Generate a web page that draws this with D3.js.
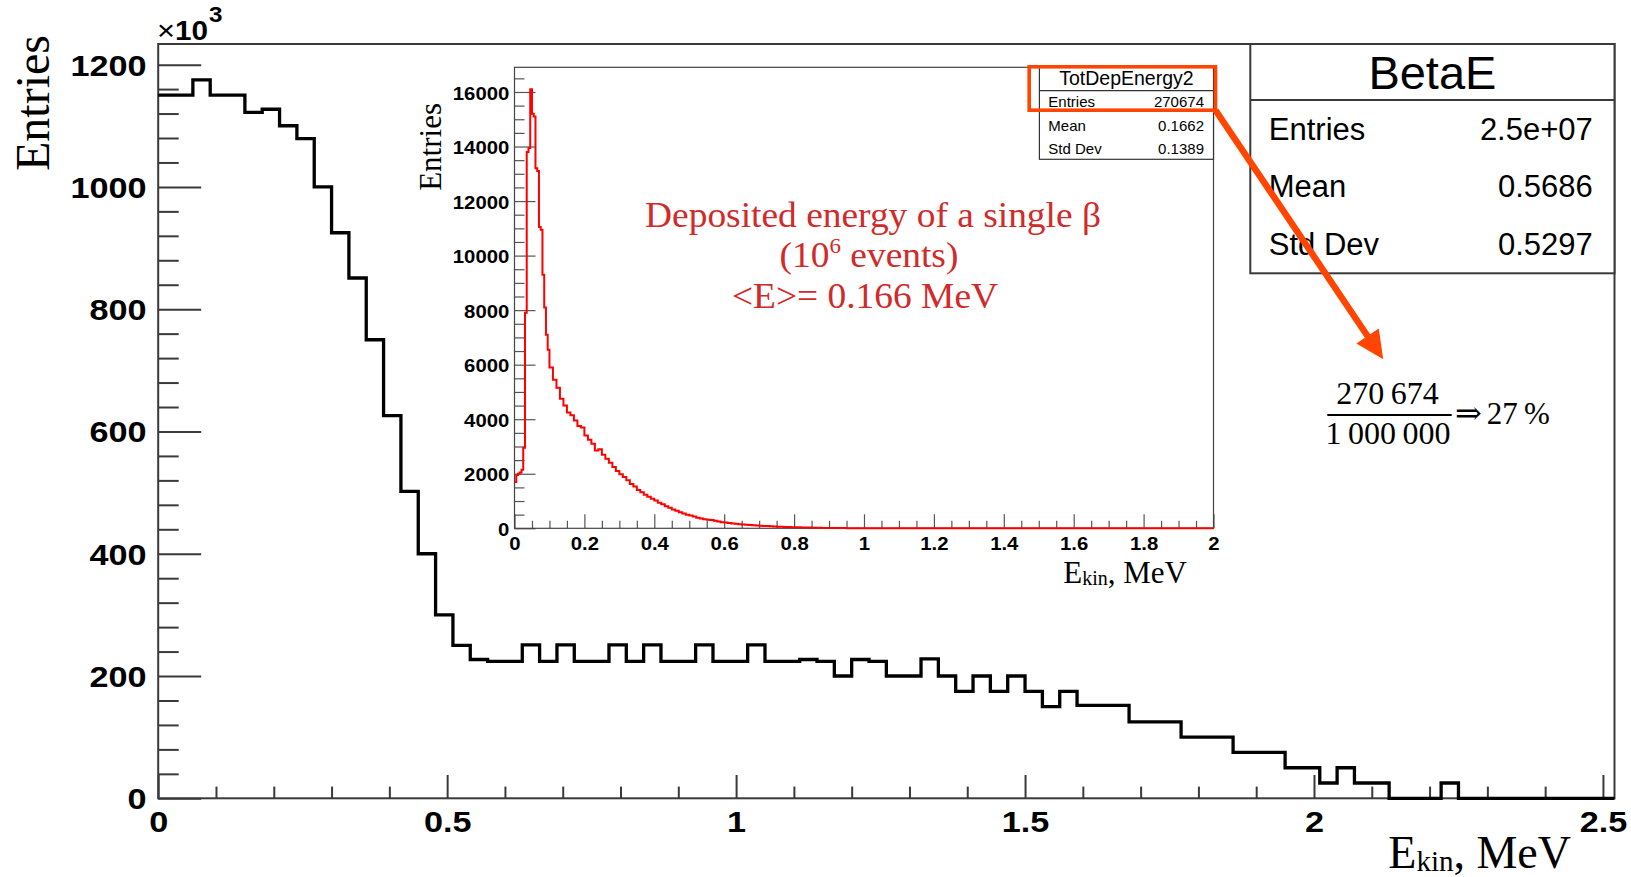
<!DOCTYPE html>
<html>
<head>
<meta charset="utf-8">
<script src="https://cdn.jsdelivr.net/npm/d3@7"></script>
<style>
  html,body{margin:0;padding:0;background:#fff;}
  svg{display:block;}
</style>
</head>
<body>
<svg id="chart" width="1631" height="877"></svg>
<script>
// ================= DATA =================
// Main histogram "BetaE": entries (x10^3) per 0.03 MeV bin, starting at 0 MeV
const mainBinWidth = 0.03;
const mainCounts = [
  1150,1150,1175,1150,1150,1122,1127,1100,1079,1000,
  925,851,750,626,502,400,300,250,227,224,
  224,251,224,251,224,224,251,224,251,224,
  224,251,224,224,251,224,224,227,224,200,
  227,224,200,200,228,200,175,200,175,200,
  175,150,175,152,152,152,125,125,125,100,
  100,100,75,75,75,50,50,25,50,25,
  25,0,0,0,25,0,0,0,0,0,
  0,0,0,0
];
const mainXTicks = [0, 0.5, 1, 1.5, 2, 2.5];
const mainXTickLabels = ["0", "0.5", "1", "1.5", "2", "2.5"];
const mainXMinorStep = 0.1;
const mainYTicks = [0, 200, 400, 600, 800, 1000, 1200];
const mainYTickLabels = ["0", "200", "400", "600", "800", "1000", "1200"];
const mainYMinorStep = 40;

// Inset histogram "TotDepEnergy2": entries per bin
const insetFineWidth = 0.005;          // bins from 0 to 0.1 MeV
const insetFineCounts = [
  1700,1950,2000,2050,2150,2950,7900,13800,13950,16100,
  15200,15100,13200,13100,11050,10950,9300,8100,7100,6550
];
const insetCoarseStart = 0.1;          // bins from 0.1 to 1.0 MeV
const insetCoarseWidth = 0.01;
const insetCoarseCounts = [
  5900,5450,5150,4750,4500,4250,4150,3950,3750,3700,
  3400,3250,3100,2850,2900,2700,2550,2400,2250,2100,
  1980,1880,1760,1620,1530,1400,1320,1230,1160,1080,
  1020,940,880,810,750,690,640,590,540,500,
  465,430,390,360,335,310,300,275,250,225,
  210,195,180,165,150,140,130,120,110,100,
  92,85,80,72,66,60,55,50,45,42,
  38,35,30,28,25,22,20,18,15,14,
  12,10,9,8,7,6,5,4,3,2
];
const insetEmptyTail = {from: 1.0, to: 2.0, value: 0}; // no entries above 1 MeV
const insetXTicks = [0, 0.2, 0.4, 0.6, 0.8, 1, 1.2, 1.4, 1.6, 1.8, 2];
const insetXTickLabels = ["0","0.2","0.4","0.6","0.8","1","1.2","1.4","1.6","1.8","2"];
const insetXMinorStep = 0.05;
const insetYTicks = [0, 2000, 4000, 6000, 8000, 10000, 12000, 14000, 16000];
const insetYTickLabels = ["0","2000","4000","6000","8000","10000","12000","14000","16000"];
const insetYMinorStep = 500;

// Statistics boxes
const mainStatsName = "BetaE";
const mainStatsLabels = ["Entries", "Mean", "Std Dev"];
const mainStatsValues = ["2.5e+07", "0.5686", "0.5297"];
const insetStatsName = "TotDepEnergy2";
const insetStatsLabels = ["Entries", "Mean", "Std Dev"];
const insetStatsValues = ["270674", "0.1662", "0.1389"];

// Annotation texts
const annotLine1 = "Deposited energy of a single \u03B2";
const annotLine2 = ["(10", "6", " events)"];
const annotLine3 = "<E>= 0.166 MeV";
const fracNum = "270\u2009674";
const fracDen = "1\u2009000\u2009000";
const fracResult = "27\u2009%";

// ================= DRAWING =================
const svg = d3.select("#chart");
const SANS = "'Liberation Sans', Arial, Helvetica, sans-serif";
const SERIF = "'Liberation Serif', 'Times New Roman', Times, serif";
const AXC = "#3a3a3a";

function minorTicks(step, max, majorEvery) {
  const n = Math.floor(max / step + 1e-6);
  return d3.range(0, n + 1).filter(i => i % majorEvery !== 0).map(i => +(i * step).toFixed(6));
}
function stepPath(xs, ys, bins) {
  const pts = bins.map(b => [b.x0, b.v]);
  const last = bins[bins.length - 1];
  pts.push([last.x1, last.v]);
  return d3.line().x(d => xs(d[0])).y(d => ys(d[1])).curve(d3.curveStepAfter)(pts);
}
function styleAxis(g, color, width) {
  g.select(".domain").remove();
  g.selectAll(".tick line").attr("stroke", color).attr("stroke-width", width);
}

// ---------- main plot ----------
const mainXMax = mainCounts.length * mainBinWidth;
const mainYMax = d3.max(mainCounts) * 1.05;
const mx = d3.scaleLinear().domain([0, mainXMax]).range([158.2, 1614.5]);
const my = d3.scaleLinear().domain([0, mainYMax]).range([798.3, 44]);

const gxMin = svg.append("g").attr("transform", `translate(0,${my(0)})`)
  .call(d3.axisBottom(mx).tickValues(minorTicks(mainXMinorStep, mainXMax, 5)).tickFormat("").tickSize(-11.7).tickSizeOuter(0));
styleAxis(gxMin, AXC, 2);
const gx = svg.append("g").attr("transform", `translate(0,${my(0)})`)
  .call(d3.axisBottom(mx).tickValues(mainXTicks).tickFormat((d, i) => mainXTickLabels[i]).tickSize(-23.3).tickSizeOuter(0).tickPadding(12.4));
styleAxis(gx, AXC, 2);
gx.selectAll("text").attr("font-family", SANS).attr("font-weight", "bold").attr("font-size", 30)
  .attr("fill", "#000").attr("transform", "scale(1.14,1)");

const gyMin = svg.append("g").attr("transform", `translate(${mx(0)},0)`)
  .call(d3.axisLeft(my).tickValues(minorTicks(mainYMinorStep, mainYMax, 5)).tickFormat("").tickSize(-20.5).tickSizeOuter(0));
styleAxis(gyMin, AXC, 2);
const gy = svg.append("g").attr("transform", `translate(${mx(0)},0)`)
  .call(d3.axisLeft(my).tickValues(mainYTicks).tickFormat((d, i) => mainYTickLabels[i]).tickSize(-43).tickSizeOuter(0).tickPadding(10.2));
styleAxis(gy, AXC, 2);
gy.selectAll("text").attr("font-family", SANS).attr("font-weight", "bold").attr("font-size", 30)
  .attr("fill", "#000").attr("dy", "0.35em").attr("transform", "scale(1.14,1)");

svg.append("rect")
  .attr("x", mx(0)).attr("y", my(mainYMax))
  .attr("width", mx(mainXMax) - mx(0)).attr("height", my(0) - my(mainYMax))
  .attr("fill", "none").attr("stroke", AXC).attr("stroke-width", 2);

const mainBins = mainCounts.map((v, i) => ({x0: i * mainBinWidth, x1: (i + 1) * mainBinWidth, v}));
svg.append("path").attr("d", stepPath(mx, my, mainBins))
  .attr("fill", "none").attr("stroke", "#000").attr("stroke-width", 3.3)
  .attr("stroke-linejoin", "miter").attr("stroke-linecap", "butt");

// x10^3
const expG = svg.append("g").attr("transform", "translate(157,40) scale(1.1,1)");
const expT = expG.append("text").attr("font-family", SANS).attr("fill", "#000");
expT.append("tspan").attr("font-size", 28).text("\u00D7");
expT.append("tspan").attr("font-size", 27).attr("font-weight", "bold").text("10");
expT.append("tspan").attr("font-size", 22).attr("font-weight", "bold").attr("dx", 1).attr("dy", -18).text("3");

// axis titles
svg.append("text").attr("transform", "translate(49,35) rotate(-90)")
  .attr("text-anchor", "end").attr("font-family", SERIF).attr("font-size", 48).attr("fill", "#000")
  .text("Entries");
const xt = svg.append("text").attr("x", 1571).attr("y", 868).attr("text-anchor", "end")
  .attr("font-family", SERIF).attr("font-size", 46).attr("fill", "#000");
xt.append("tspan").text("E");
xt.append("tspan").attr("font-size", 29).attr("dy", 3).text("kin");
xt.append("tspan").attr("dy", -3).text(", MeV");

// ---------- inset plot ----------
const insetBins = [];
insetFineCounts.forEach((v, i) => insetBins.push({x0: i * insetFineWidth, x1: (i + 1) * insetFineWidth, v}));
insetCoarseCounts.forEach((v, i) => insetBins.push({x0: insetCoarseStart + i * insetCoarseWidth, x1: insetCoarseStart + (i + 1) * insetCoarseWidth, v}));
insetBins.push({x0: insetEmptyTail.from, x1: insetEmptyTail.to, v: insetEmptyTail.value});

const insetXMax = insetEmptyTail.to;
const insetYMax = d3.max(insetBins, b => b.v) * 1.05;
const ix = d3.scaleLinear().domain([0, insetXMax]).range([514.5, 1213.5]);
const iy = d3.scaleLinear().domain([0, insetYMax]).range([528.3, 67.3]);

svg.append("rect").attr("x", ix(0)).attr("y", iy(insetYMax))
  .attr("width", ix(insetXMax) - ix(0)).attr("height", iy(0) - iy(insetYMax))
  .attr("fill", "#fff").attr("stroke", "none");

const ICOL = "#555";
const ixMin = svg.append("g").attr("transform", `translate(0,${iy(0)})`)
  .call(d3.axisBottom(ix).tickValues(minorTicks(insetXMinorStep, insetXMax, 4)).tickFormat("").tickSize(-7.5).tickSizeOuter(0));
styleAxis(ixMin, ICOL, 1.2);
const ixg = svg.append("g").attr("transform", `translate(0,${iy(0)})`)
  .call(d3.axisBottom(ix).tickValues(insetXTicks).tickFormat((d, i) => insetXTickLabels[i]).tickSize(-14).tickSizeOuter(0).tickPadding(8.9));
styleAxis(ixg, ICOL, 1.2);
ixg.selectAll("text").attr("font-family", SANS).attr("font-weight", "bold").attr("font-size", 18)
  .attr("fill", "#000").attr("transform", "scale(1.13,1)");

const iyMin = svg.append("g").attr("transform", `translate(${ix(0)},0)`)
  .call(d3.axisLeft(iy).tickValues(minorTicks(insetYMinorStep, insetYMax, 4)).tickFormat("").tickSize(-10).tickSizeOuter(0));
styleAxis(iyMin, ICOL, 1.2);
const iyg = svg.append("g").attr("transform", `translate(${ix(0)},0)`)
  .call(d3.axisLeft(iy).tickValues(insetYTicks).tickFormat((d, i) => insetYTickLabels[i]).tickSize(-21).tickSizeOuter(0).tickPadding(4.6));
styleAxis(iyg, ICOL, 1.2);
iyg.selectAll("text").attr("font-family", SANS).attr("font-weight", "bold").attr("font-size", 18)
  .attr("fill", "#000").attr("dy", "0.39em").attr("transform", "scale(1.13,1)");

svg.append("rect").attr("x", ix(0)).attr("y", iy(insetYMax))
  .attr("width", ix(insetXMax) - ix(0)).attr("height", iy(0) - iy(insetYMax))
  .attr("fill", "none").attr("stroke", "#444").attr("stroke-width", 1.2);

svg.append("path").attr("d", stepPath(ix, iy, insetBins))
  .attr("fill", "none").attr("stroke", "#ff0000").attr("stroke-width", 2);

svg.append("text").attr("transform", "translate(441,103) rotate(-90)")
  .attr("text-anchor", "end").attr("font-family", SERIF).attr("font-size", 31).attr("fill", "#000")
  .text("Entries");
const ixt = svg.append("text").attr("x", 1187).attr("y", 583).attr("text-anchor", "end")
  .attr("font-family", SERIF).attr("font-size", 31).attr("fill", "#000");
ixt.append("tspan").text("E");
ixt.append("tspan").attr("font-size", 20).attr("dy", 2).text("kin");
ixt.append("tspan").attr("dy", -2).text(", MeV");

// inset stats box
const isb = {x0: 1039.4, x1: ix(insetXMax), y0: iy(insetYMax), y1: 159.3, sep: 90.7};
svg.append("rect").attr("x", isb.x0).attr("y", isb.y0).attr("width", isb.x1 - isb.x0).attr("height", isb.y1 - isb.y0)
  .attr("fill", "#fff").attr("stroke", "#333").attr("stroke-width", 1.2);
svg.append("line").attr("x1", isb.x0).attr("x2", isb.x1).attr("y1", isb.sep).attr("y2", isb.sep)
  .attr("stroke", "#333").attr("stroke-width", 1.2);
svg.append("text").attr("x", (isb.x0 + isb.x1) / 2).attr("y", 85).attr("text-anchor", "middle")
  .attr("font-family", SANS).attr("font-size", 19.5).attr("fill", "#000").text(insetStatsName);
const insetRowY = [106.5, 130.5, 153.5];
insetStatsLabels.forEach((l, i) => {
  svg.append("text").attr("x", 1048.3).attr("y", insetRowY[i]).attr("font-family", SANS)
    .attr("font-size", 15).attr("fill", "#000").text(l);
  svg.append("text").attr("x", 1204).attr("y", insetRowY[i]).attr("text-anchor", "end").attr("font-family", SANS)
    .attr("font-size", 15).attr("fill", "#000").text(insetStatsValues[i]);
});

// red annotation
const RED = "#d12a2a";
const ann = svg.append("g").attr("font-family", SERIF).attr("fill", RED).attr("text-anchor", "middle");
ann.append("g").attr("transform", "translate(873,226.7) scale(1.04,1)")
  .append("text").attr("font-size", 36).text(annotLine1);
const a2 = ann.append("g").attr("transform", "translate(869,267.3) scale(1.04,1)")
  .append("text").attr("font-size", 36);
a2.append("tspan").text(annotLine2[0]);
a2.append("tspan").attr("font-size", 22).attr("dy", -14).text(annotLine2[1]);
a2.append("tspan").attr("dy", 14).text(annotLine2[2]);
ann.append("g").attr("transform", "translate(865,308.3) scale(1.04,1)")
  .append("text").attr("font-size", 36).text(annotLine3);

// ---------- main stats box ----------
const msb = {x0: 1250.3, x1: mx(mainXMax), y0: my(mainYMax), y1: 273.3, sep: 100};
svg.append("rect").attr("x", msb.x0).attr("y", msb.y0).attr("width", msb.x1 - msb.x0).attr("height", msb.y1 - msb.y0)
  .attr("fill", "#fff").attr("stroke", AXC).attr("stroke-width", 2);
svg.append("line").attr("x1", msb.x0).attr("x2", msb.x1).attr("y1", msb.sep).attr("y2", msb.sep)
  .attr("stroke", AXC).attr("stroke-width", 2);
svg.append("text").attr("x", (msb.x0 + msb.x1) / 2).attr("y", 89.3).attr("text-anchor", "middle")
  .attr("font-family", SANS).attr("font-size", 47).attr("fill", "#000").text(mainStatsName);
const mainRowY = [140, 196.7, 255];
mainStatsLabels.forEach((l, i) => {
  svg.append("text").attr("x", 1268.8).attr("y", mainRowY[i]).attr("font-family", SANS)
    .attr("font-size", 31).attr("fill", "#000").text(l);
  svg.append("text").attr("x", 1592.8).attr("y", mainRowY[i]).attr("text-anchor", "end").attr("font-family", SANS)
    .attr("font-size", 31).attr("fill", "#000").text(mainStatsValues[i]);
});

// ---------- fraction ----------
const fr = svg.append("g").attr("font-family", SERIF).attr("fill", "#000");
fr.append("text").attr("x", 1387.5).attr("y", 404).attr("text-anchor", "middle").attr("font-size", 32).text(fracNum);
fr.append("line").attr("x1", 1327.3).attr("x2", 1451.7).attr("y1", 415).attr("y2", 415)
  .attr("stroke", "#000").attr("stroke-width", 1.8);
fr.append("text").attr("x", 1388).attr("y", 444).attr("text-anchor", "middle").attr("font-size", 32).text(fracDen);
fr.append("text").attr("x", 1455).attr("y", 424).attr("font-size", 32).attr("font-family", "'DejaVu Serif', serif").text("\u21D2");
fr.append("text").attr("x", 1486.7).attr("y", 424).attr("font-size", 31).text(fracResult);

// ---------- orange highlight + arrow ----------
const ORG = "#ff4500";
svg.append("rect").attr("x", 1029.2).attr("y", 66.8).attr("width", 1215.5 - 1029.2).attr("height", 110.2 - 66.8)
  .attr("fill", "none").attr("stroke", ORG).attr("stroke-width", 3.6);
const aStart = [1215.5, 110.2], aTip = [1383.2, 359.3];
const adx = aTip[0] - aStart[0], ady = aTip[1] - aStart[1], alen = Math.hypot(adx, ady);
const ux = adx / alen, uy = ady / alen, px = -uy, py = ux;
const headLen = 28, headHalf = 13.5;
const base = [aTip[0] - ux * headLen, aTip[1] - uy * headLen];
svg.append("line").attr("x1", aStart[0]).attr("y1", aStart[1]).attr("x2", base[0] + ux * 2).attr("y2", base[1] + uy * 2)
  .attr("stroke", ORG).attr("stroke-width", 6.5);
svg.append("polygon").attr("points", [
  aTip, [base[0] + px * headHalf, base[1] + py * headHalf], [base[0] - px * headHalf, base[1] - py * headHalf]
].map(p => p.join(",")).join(" ")).attr("fill", ORG);
</script>
</body>
</html>
